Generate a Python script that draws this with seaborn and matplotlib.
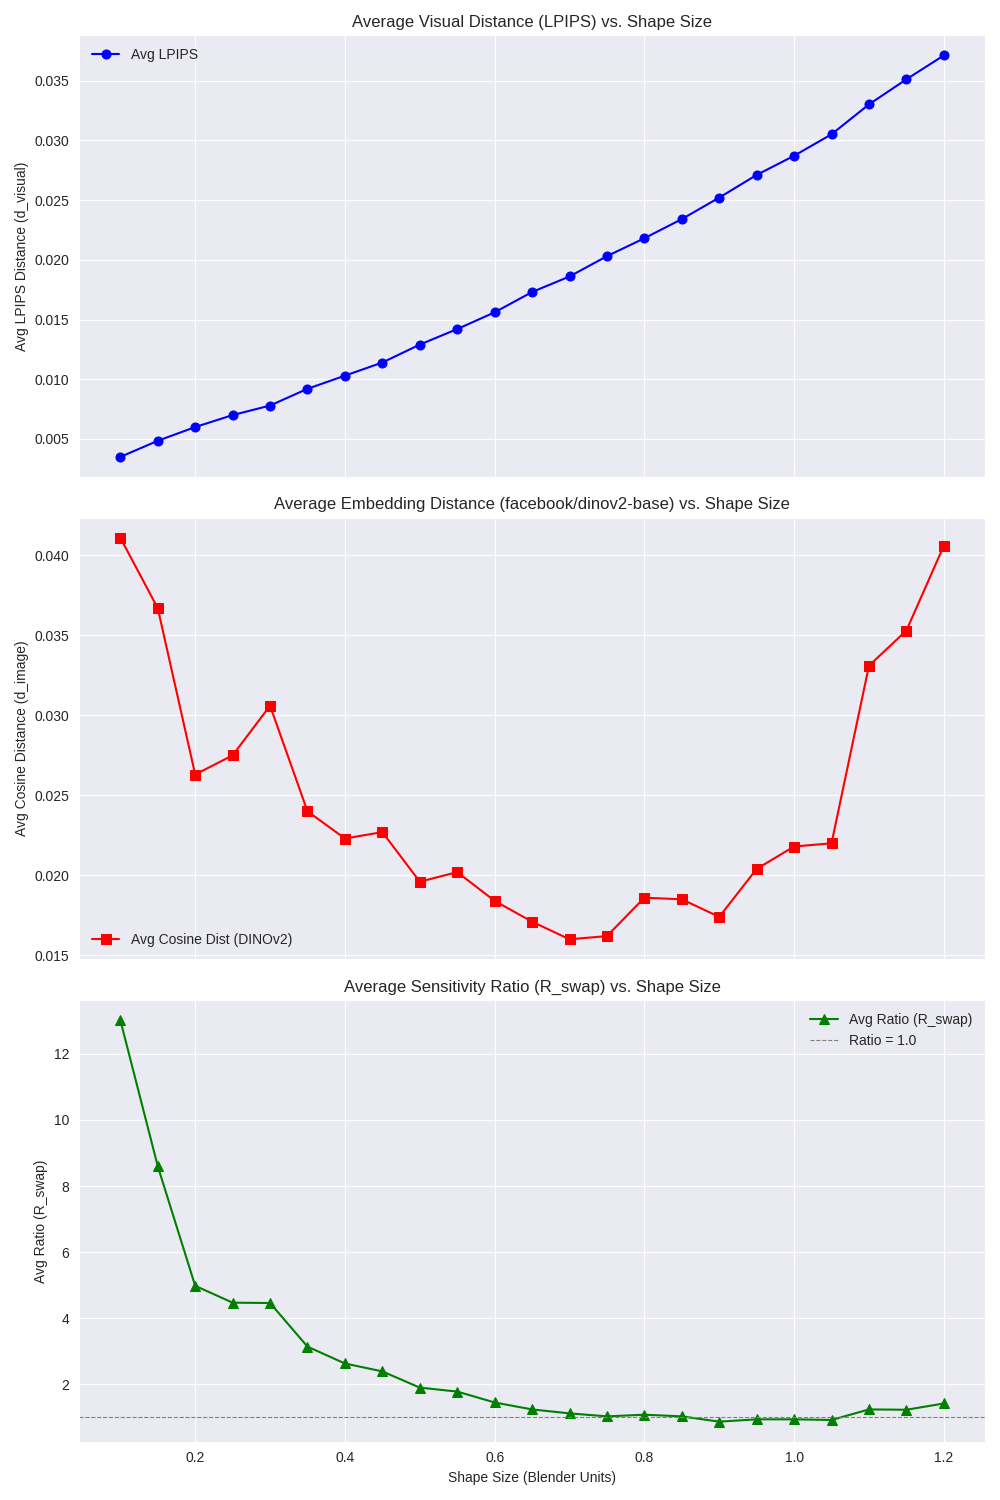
import matplotlib
matplotlib.use("Agg")
import matplotlib.pyplot as plt
import seaborn as sns

shape_sizes = [0.10, 0.15, 0.20, 0.25, 0.30, 0.35, 0.40, 0.45, 0.50, 0.55, 0.60, 0.65,
               0.70, 0.75, 0.80, 0.85, 0.90, 0.95, 1.00, 1.05, 1.10, 1.15, 1.20]

avg_lpips = [0.0035, 0.00485, 0.0060, 0.0070, 0.0078, 0.0092, 0.0103, 0.0114, 0.0129,
             0.0142, 0.0156, 0.0173, 0.0186, 0.0203, 0.0218, 0.0234, 0.0252, 0.0271,
             0.0287, 0.0305, 0.0330, 0.0351, 0.0371]

avg_cosine = [0.0411, 0.0367, 0.0263, 0.0275, 0.0306, 0.0240, 0.0223, 0.0227, 0.0196,
              0.0202, 0.0184, 0.0171, 0.0160, 0.0162, 0.0186, 0.0185, 0.0174, 0.0204,
              0.0218, 0.0220, 0.0331, 0.0353, 0.0406]

avg_ratio = [13.02, 8.60, 4.98, 4.47, 4.46, 3.14, 2.63, 2.39, 1.90, 1.78, 1.45, 1.24,
             1.12, 1.03, 1.08, 1.03, 0.87, 0.94, 0.94, 0.92, 1.24, 1.23, 1.42]

sns.set_style("darkgrid")
plt.rcParams["font.family"] = ["Liberation Sans", "DejaVu Sans"]

fig, axes = plt.subplots(3, 1, figsize=(10, 15), sharex=True, dpi=100)

# LPIPS
ax = axes[0]
sns.lineplot(x=shape_sizes, y=avg_lpips, marker="o", color="blue", markersize=6.5,
             markeredgecolor="blue", linewidth=1.5, label="Avg LPIPS", ax=ax)
ax.set_title("Average Visual Distance (LPIPS) vs. Shape Size")
ax.set_ylabel("Avg LPIPS Distance (d_visual)")
ax.legend(loc="upper left", frameon=False)

# DINOv2 cosine distance
ax = axes[1]
sns.lineplot(x=shape_sizes, y=avg_cosine, marker="s", color="red", markersize=6.5,
             markeredgecolor="red", linewidth=1.5, label="Avg Cosine Dist (DINOv2)", ax=ax)
ax.set_title("Average Embedding Distance (facebook/dinov2-base) vs. Shape Size")
ax.set_ylabel("Avg Cosine Distance (d_image)")
ax.legend(loc="lower left", frameon=False)

# Sensitivity ratio
ax = axes[2]
sns.lineplot(x=shape_sizes, y=avg_ratio, marker="^", color="green", markersize=6.5,
             markeredgecolor="green", linewidth=1.5, label="Avg Ratio (R_swap)", ax=ax)
ax.axhline(1.0, color="gray", linestyle="--", linewidth=0.8, label="Ratio = 1.0")
ax.set_title("Average Sensitivity Ratio (R_swap) vs. Shape Size")
ax.set_ylabel("Avg Ratio (R_swap)")
ax.set_xlabel("Shape Size (Blender Units)")
ax.legend(loc="upper right", frameon=False)

plt.tight_layout()
plt.savefig("out.png")
plt.close()
